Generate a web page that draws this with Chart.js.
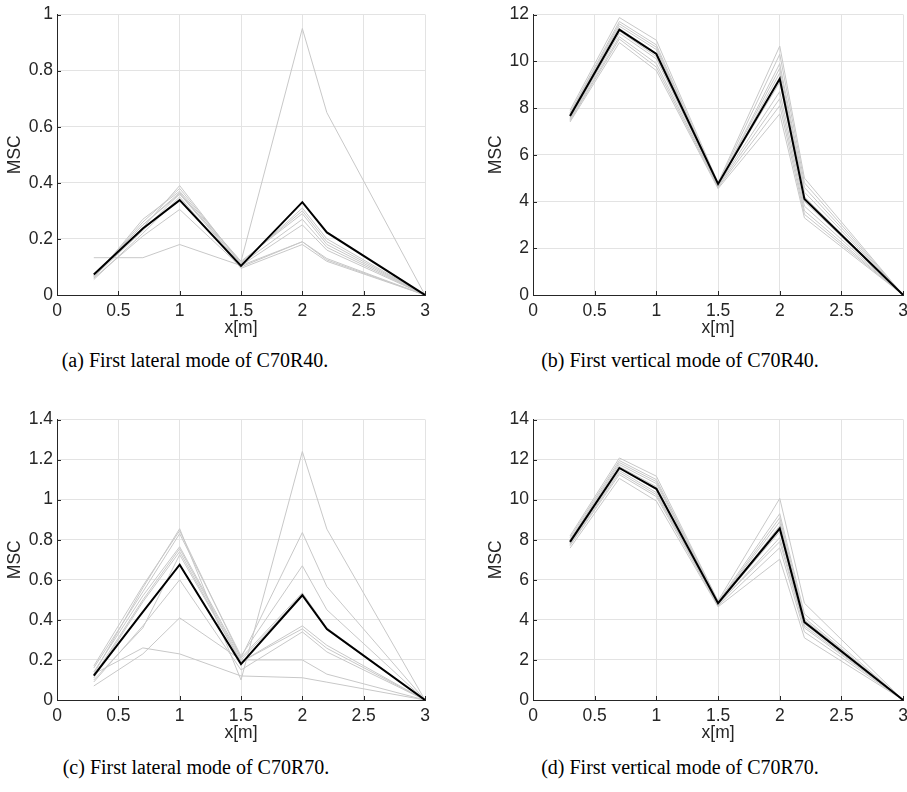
<!DOCTYPE html>
<html>
<head>
<meta charset="utf-8">
<script src="https://cdn.jsdelivr.net/npm/chart.js@4.4.1/dist/chart.umd.min.js"></script>
<style>
    body { margin: 0; background: #fff; width: 907px; height: 792px; position: relative; overflow: hidden; }
    canvas { position: absolute; }
    .cap { position: absolute; text-align: center; font-family: "Liberation Serif", serif; font-size: 20px; line-height: 22px; color: #000; white-space: nowrap; }
</style>
</head>
<body>
<canvas id="c-a" width="450" height="345" style="left:0;top:0"></canvas>
<canvas id="c-b" width="438" height="345" style="left:476px;top:0"></canvas>
<canvas id="c-c" width="450" height="345" style="left:0;top:405px"></canvas>
<canvas id="c-d" width="438" height="345" style="left:476px;top:405px"></canvas>
<div class="cap" style="left:0;width:390px;top:349px">(a) First lateral mode of C70R40.</div>
<div class="cap" style="left:490px;width:380px;top:349px">(b) First vertical mode of C70R40.</div>
<div class="cap" style="left:0;width:392px;top:756px">(c) First lateral mode of C70R70.</div>
<div class="cap" style="left:490px;width:380px;top:756px">(d) First vertical mode of C70R70.</div>
<script>
// sensor positions along the beam
var xPos = [0.3, 0.7, 1, 1.5, 2, 2.2, 3];
var xTicks = [0, 0.5, 1, 1.5, 2, 2.5, 3];

// (a) lateral C70R40
var latR40Mean = [0.073, 0.237, 0.338, 0.104, 0.331, 0.223, 0];
var latR40Runs = [
    [0.07, 0.24, 0.39, 0.11, 0.31, 0.20, 0],
    [0.065, 0.26, 0.38, 0.115, 0.30, 0.19, 0],
    [0.06, 0.27, 0.37, 0.12, 0.29, 0.18, 0],
    [0.07, 0.25, 0.365, 0.11, 0.27, 0.17, 0],
    [0.065, 0.23, 0.36, 0.105, 0.25, 0.16, 0],
    [0.06, 0.21, 0.305, 0.10, 0.19, 0.13, 0],
    [0.055, 0.22, 0.35, 0.095, 0.18, 0.12, 0],
    [0.133, 0.133, 0.18, 0.105, 0.19, 0.125, 0],
    [0.07, 0.25, 0.36, 0.12, 0.95, 0.65, 0]
];

// (b) vertical C70R40
var verR40Mean = [7.66, 11.35, 10.31, 4.75, 9.25, 4.11, 0];
var verR40Runs = [
    [7.9, 11.87, 10.9, 4.8, 10.65, 5.0, 0],
    [7.8, 11.7, 10.7, 4.75, 10.3, 4.8, 0],
    [7.75, 11.6, 10.6, 4.7, 9.9, 4.6, 0],
    [7.7, 11.5, 10.5, 4.7, 9.7, 4.4, 0],
    [7.65, 11.4, 10.35, 4.65, 9.5, 4.2, 0],
    [7.6, 11.3, 10.2, 4.75, 9.1, 4.0, 0],
    [7.55, 11.2, 10.1, 4.7, 8.7, 3.8, 0],
    [7.5, 11.05, 9.9, 4.65, 8.4, 3.6, 0],
    [7.45, 10.95, 9.75, 4.6, 8.1, 3.45, 0],
    [7.4, 10.8, 9.6, 4.55, 7.75, 3.3, 0]
];

// (c) lateral C70R70
var latR70Mean = [0.122, 0.44, 0.675, 0.179, 0.523, 0.354, 0];
var latR70Runs = [
    [0.13, 0.56, 0.855, 0.10, 1.24, 0.853, 0],
    [0.17, 0.57, 0.845, 0.21, 0.836, 0.566, 0],
    [0.16, 0.54, 0.83, 0.22, 0.67, 0.45, 0],
    [0.14, 0.52, 0.765, 0.21, 0.535, 0.36, 0],
    [0.12, 0.50, 0.755, 0.20, 0.525, 0.35, 0],
    [0.11, 0.49, 0.74, 0.19, 0.37, 0.273, 0],
    [0.10, 0.36, 0.725, 0.19, 0.355, 0.258, 0],
    [0.09, 0.37, 0.60, 0.15, 0.34, 0.24, 0],
    [0.07, 0.23, 0.41, 0.20, 0.20, 0.129, 0],
    [0.13, 0.26, 0.23, 0.12, 0.111, 0.089, 0]
];

// (d) vertical C70R70
var verR70Mean = [7.89, 11.58, 10.54, 4.83, 8.56, 3.89, 0];
var verR70Runs = [
    [8.19, 12.08, 11.17, 4.95, 10.06, 4.83, 0],
    [8.1, 11.95, 11.0, 4.9, 9.3, 4.3, 0],
    [8.0, 11.85, 10.9, 4.85, 9.1, 4.1, 0],
    [7.95, 11.75, 10.8, 4.85, 8.9, 4.0, 0],
    [7.9, 11.65, 10.65, 4.8, 8.7, 3.9, 0],
    [7.85, 11.55, 10.5, 4.8, 8.4, 3.8, 0],
    [7.8, 11.45, 10.35, 4.75, 8.1, 3.7, 0],
    [7.75, 11.35, 10.25, 4.8, 7.9, 3.6, 0],
    [7.7, 11.25, 10.15, 4.7, 7.6, 3.4, 0],
    [7.58, 11.06, 9.93, 4.65, 7.03, 3.1, 0]
];

var axisColor = '#262626';
var gridColor = '#e3e3e3';
var tickFont = {family: 'Liberation Sans, Arial, sans-serif', size: 17.5};

// matlab style ticks pointing into the plot
var inwardTicks = {
    id: 'inwardTicks',
    afterDraw: function (chart) {
        var ctx = chart.ctx, a = chart.chartArea;
        var sx = chart.scales.x, sy = chart.scales.y;
        ctx.save();
        ctx.strokeStyle = axisColor;
        ctx.lineWidth = 1;
        ctx.beginPath();
        sx.ticks.forEach(function (t) {
            var px = Math.round(sx.getPixelForValue(t.value)) + 0.5;
            ctx.moveTo(px, a.bottom);
            ctx.lineTo(px, a.bottom - 4);
        });
        sy.ticks.forEach(function (t) {
            var py = Math.round(sy.getPixelForValue(t.value)) + 0.5;
            ctx.moveTo(a.left, py);
            ctx.lineTo(a.left + 4, py);
        });
        ctx.stroke();
        ctx.restore();
    }
};

// plain labels: 0, 0.5, 1 ...
function fmt(v) {
    return String(Math.round(v * 100) / 100);
}

function toPoints(vals) {
    return vals.map(function (v, i) {
        return {x: xPos[i], y: v};
    });
}

function makePanel(id, runs, mean, yMax, yStep, rightPad, msPad) {
    var sets = [{
        data: toPoints(mean),
        borderColor: '#000',
        borderWidth: 2,
        order: 0
    }];
    runs.forEach(function (r) {
        sets.push({
            data: toPoints(r),
            borderColor: '#c8c8c8',
            borderWidth: 1,
            order: 1
        });
    });

    new Chart(document.getElementById(id), {
        type: 'line',
        data: {datasets: sets},
        plugins: [inwardTicks],
        options: {
            responsive: false,
            animation: false,
            devicePixelRatio: 1,
            layout: {padding: {top: 13, right: rightPad, left: 0, bottom: 0}},
            elements: {
                point: {radius: 0},
                line: {tension: 0, fill: false}
            },
            plugins: {
                legend: {display: false},
                tooltip: {enabled: false}
            },
            scales: {
                x: {
                    type: 'linear',
                    min: 0,
                    max: 3,
                    afterFit: function (s) { s.height = 50; },
                    afterBuildTicks: function (s) {
                        s.ticks = xTicks.map(function (v) { return {value: v}; });
                    },
                    grid: {color: gridColor, drawTicks: false},
                    border: {color: axisColor, width: 1},
                    ticks: {color: axisColor, font: tickFont, padding: 6, maxRotation: 0, callback: fmt},
                    title: {
                        display: true, text: 'x[m]', color: axisColor, font: tickFont,
                        padding: {top: 0, bottom: 6}
                    }
                },
                y: {
                    min: 0,
                    max: yMax,
                    afterFit: function (s) { s.width = 57; },
                    grid: {color: gridColor, drawTicks: false},
                    border: {color: axisColor, width: 1},
                    ticks: {color: axisColor, font: tickFont, padding: 4, stepSize: yStep, callback: fmt},
                    title: {
                        display: true, text: 'MSC', color: axisColor, font: tickFont,
                        padding: {top: msPad, bottom: 0}
                    }
                }
            }
        }
    });
}

makePanel('c-a', latR40Runs, latR40Mean, 1, 0.2, 25, 5);
makePanel('c-b', verR40Runs, verR40Mean, 12, 2, 5, 10);
makePanel('c-c', latR70Runs, latR70Mean, 1.4, 0.2, 25, 5);
makePanel('c-d', verR70Runs, verR70Mean, 14, 2, 5, 10);
</script>
</body>
</html>
